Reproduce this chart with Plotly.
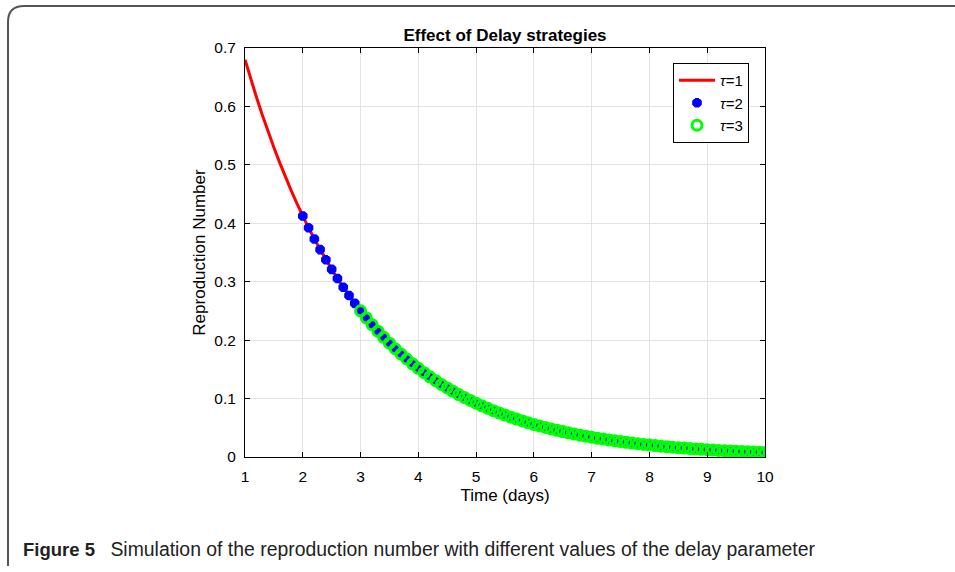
import plotly.graph_objects as go

# Time grid (days) and reproduction number along the simulated trajectory
time_days = [1.0, 1.1, 1.2, 1.3, 1.4, 1.5, 1.6, 1.7, 1.8, 1.9,
             2.0, 2.1, 2.2, 2.3, 2.4, 2.5, 2.6, 2.7, 2.8, 2.9,
             3.0, 3.1, 3.2, 3.3, 3.4, 3.5, 3.6, 3.7, 3.8, 3.9,
             4.0, 4.1, 4.2, 4.3, 4.4, 4.5, 4.6, 4.7, 4.8, 4.9,
             5.0, 5.1, 5.2, 5.3, 5.4, 5.5, 5.6, 5.7, 5.8, 5.9,
             6.0, 6.1, 6.2, 6.3, 6.4, 6.5, 6.6, 6.7, 6.8, 6.9,
             7.0, 7.1, 7.2, 7.3, 7.4, 7.5, 7.6, 7.7, 7.8, 7.9,
             8.0, 8.1, 8.2, 8.3, 8.4, 8.5, 8.6, 8.7, 8.8, 8.9,
             9.0, 9.1, 9.2, 9.3, 9.4, 9.5, 9.6, 9.7, 9.8, 9.9,
             10.0]
repro_number = [0.6800, 0.6468, 0.6153, 0.5853, 0.5567, 0.5296, 0.5038, 0.4792, 0.4558, 0.4336,
                0.4124, 0.3923, 0.3732, 0.3550, 0.3377, 0.3212, 0.3055, 0.2906, 0.2765, 0.2630,
                0.2502, 0.2380, 0.2264, 0.2153, 0.2048, 0.1948, 0.1853, 0.1763, 0.1677, 0.1595,
                0.1517, 0.1443, 0.1373, 0.1306, 0.1242, 0.1182, 0.1124, 0.1069, 0.1017, 0.0968,
                0.0920, 0.0876, 0.0833, 0.0792, 0.0754, 0.0717, 0.0682, 0.0649, 0.0617, 0.0587,
                0.0558, 0.0531, 0.0505, 0.0481, 0.0457, 0.0435, 0.0414, 0.0393, 0.0374, 0.0356,
                0.0339, 0.0322, 0.0306, 0.0291, 0.0277, 0.0264, 0.0251, 0.0239, 0.0227, 0.0216,
                0.0205, 0.0195, 0.0186, 0.0177, 0.0168, 0.0160, 0.0152, 0.0145, 0.0138, 0.0131,
                0.0125, 0.0119, 0.0113, 0.0107, 0.0102, 0.0097, 0.0092, 0.0088, 0.0084, 0.0080,
                0.0076]

# Start time of each delay scenario
delay_starts = {"1": 1.0, "2": 2.0, "3": 3.0}

x_ticks = [1, 2, 3, 4, 5, 6, 7, 8, 9, 10]
y_ticks = [0, 0.1, 0.2, 0.3, 0.4, 0.5, 0.6, 0.7]


def from_time(t0):
    xs = [t for t in time_days if t >= t0 - 1e-9]
    ys = [r for t, r in zip(time_days, repro_number) if t >= t0 - 1e-9]
    return xs, ys


W, H = 955, 572
L, R, T, B = 245, 765, 48, 457  # plot-area edges in pixels
FONT = "Liberation Sans, Arial, sans-serif"


def px(xp):
    return (xp - L) / (R - L)


def py(yp):
    return (B - yp) / (B - T)


fig = go.Figure()

x1, y1 = from_time(delay_starts["1"])
fig.add_trace(go.Scatter(x=x1, y=y1, mode="lines", name="<i>τ</i>=1",
                         line=dict(color="#ff0000", width=3)))

x2, y2 = from_time(delay_starts["2"])
fig.add_trace(go.Scatter(x=x2, y=y2, mode="markers", name="<i>τ</i>=2",
                         marker=dict(symbol="asterisk-open", size=8, color="#0000ff",
                                     line=dict(color="#0000ff", width=4))))

x3, y3 = from_time(delay_starts["3"])
fig.add_trace(go.Scatter(x=x3, y=y3, mode="markers", name="<i>τ</i>=3",
                         marker=dict(symbol="circle-open", size=10, color="#00ff00",
                                     line=dict(color="#00ff00", width=3))))

axis_common = dict(
    showline=True, linecolor="black", linewidth=1, mirror="ticks",
    ticks="inside", ticklen=5, tickcolor="black", tickwidth=1,
    showgrid=True, gridcolor="#e3e3e3", gridwidth=1, zeroline=False,
    tickfont=dict(family=FONT, size=15.5, color="black"),
)

fig.update_xaxes(range=[1, 10], tickvals=x_ticks, ticklabelstandoff=5,
                 title=dict(text="Time (days)", standoff=5,
                            font=dict(family=FONT, size=17, color="black")),
                 **axis_common)
fig.update_yaxes(range=[0, 0.7], tickvals=y_ticks, ticklabelstandoff=5,
                 title=dict(text="Reproduction Number", standoff=4,
                            font=dict(family=FONT, size=17, color="black")),
                 **axis_common)

# Rounded frame around the figure panel
frame = (f"M {px(8)} {py(566)} L {px(8)} {py(22)} "
         f"Q {px(8)} {py(6)} {px(24)} {py(6)} L {px(990)} {py(6)}")

fig.update_layout(
    width=W, height=H,
    margin=dict(l=L, r=W - R, t=T, b=H - B),
    paper_bgcolor="white", plot_bgcolor="white",
    title=dict(text="<b>Effect of Delay strategies</b>", x=0.5, xref="paper",
               y=1 - 35 / H, yanchor="middle",
               font=dict(family=FONT, size=17, color="black")),
    legend=dict(x=px(673), y=py(63), xanchor="left", yanchor="top",
                bgcolor="white", bordercolor="black", borderwidth=1,
                font=dict(family=FONT, size=15, color="black"),
                tracegroupgap=0, itemwidth=36),
    showlegend=True,
    shapes=[dict(type="path", path=frame, xref="paper", yref="paper",
                 line=dict(color="#555555", width=2), layer="below")],
    annotations=[dict(text="<b>Figure 5</b>   <span style='font-size:19.4px'>Simulation of the reproduction number with different values of the delay parameter</span>",
                      xref="paper", yref="paper", x=px(21), y=py(549),
                      xanchor="left", yanchor="middle", showarrow=False,
                      font=dict(family=FONT, size=18.5, color="#222222"))],
)

fig.write_html("out.html")
